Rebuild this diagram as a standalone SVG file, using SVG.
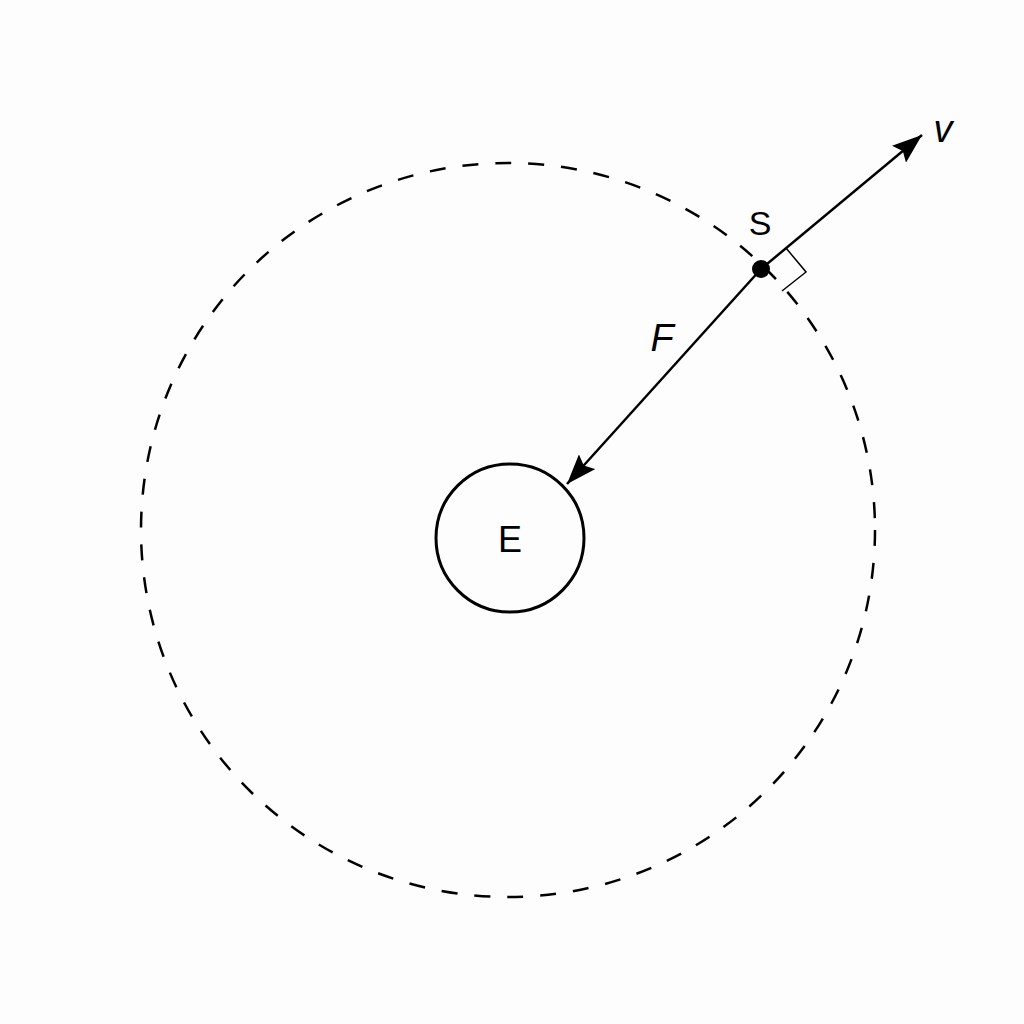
<svg xmlns="http://www.w3.org/2000/svg" width="1024" height="1024" viewBox="0 0 1024 1024">
<style>
.lbl{font-family:"Liberation Sans",Arial,sans-serif;fill:#000}
.it{font-style:italic}
.ln{stroke:#000;stroke-width:2.5;fill:none}
</style>
<defs>
<marker id="ah" viewBox="0 0 30 22" refX="30" refY="11" markerWidth="30" markerHeight="22" markerUnits="userSpaceOnUse" orient="auto">
<path d="M0,0 L30,11 L0,22 L5,11 Z" fill="#000"/>
</marker>
</defs>
<rect width="1024" height="1024" fill="#fdfdfd"/>
<g id="orbit">
<circle cx="508" cy="530" r="367" fill="none" stroke="#000" stroke-width="2.5" stroke-dasharray="16 17"/>
</g>
<g id="earth">
<circle cx="510" cy="538" r="74" fill="none" stroke="#000" stroke-width="3"/>
<text class="lbl" x="510" y="552" font-size="36" text-anchor="middle">E</text>
</g>
<g id="connectors">
<line class="ln" x1="761" y1="269" x2="922" y2="135" marker-end="url(#ah)"/>
<line class="ln" x1="761" y1="269" x2="567" y2="484" marker-end="url(#ah)"/>
<path d="M786,248 L806,272 L782,291" fill="none" stroke="#000" stroke-width="1.5"/>
<text class="lbl it" x="943" y="142" font-size="38" text-anchor="middle">v</text>
<text class="lbl it" x="662" y="351" font-size="38" text-anchor="middle">F</text>
</g>
<g id="satellite">
<circle cx="761" cy="269" r="9" fill="#000"/>
<text class="lbl" x="760" y="235" font-size="34" text-anchor="middle">S</text>
</g>
</svg>
